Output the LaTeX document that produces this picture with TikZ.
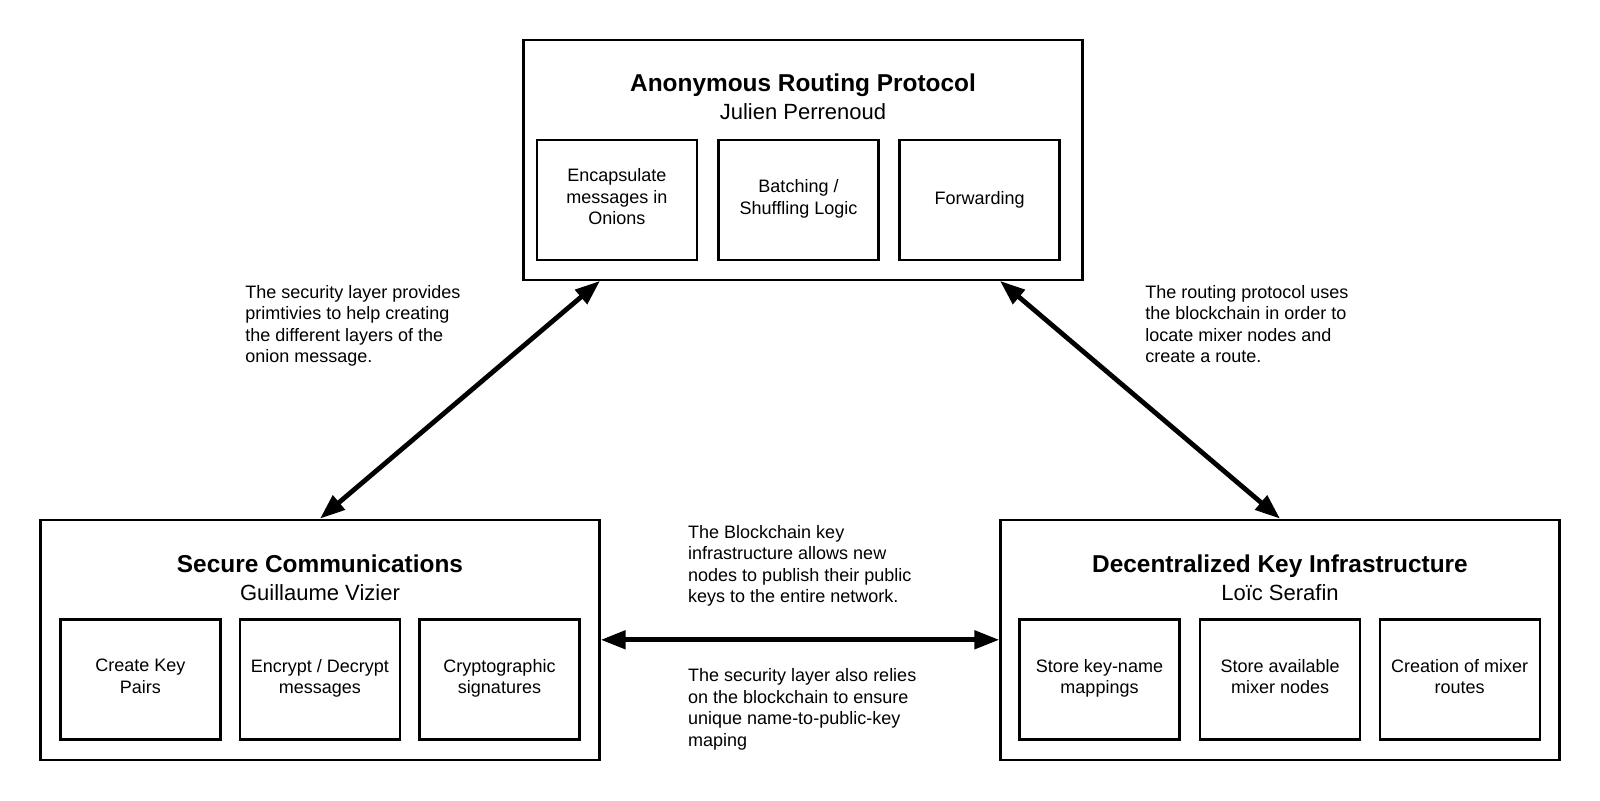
\documentclass[tikz,border=0pt]{standalone}
\usepackage{fontspec}
\setmainfont{Liberation Sans}
\usepackage{tikz}
\usetikzlibrary{arrows.meta}

\begin{document}
\begin{tikzpicture}[x=0.5pt,y=-0.5pt,
  layer/.style={draw, line width=1.2pt, minimum width=279.5pt, minimum height=120pt},
  task/.style={draw, line width=1.2pt, minimum width=80pt, minimum height=60pt, align=center, inner sep=2pt, font=\fontsize{9}{10.7}\selectfont, execute at begin node=\strut, execute at end node=\strut},
  heading/.style={anchor=base, font=\fontsize{12.2}{14}\selectfont\bfseries},
  person/.style={anchor=base, font=\fontsize{11}{13}\selectfont},
  note/.style={anchor=west, align=left, inner sep=0pt, font=\fontsize{9}{10.7}\selectfont, execute at begin node=\strut, execute at end node=\strut},
  link/.style={{Triangle[length=12.5pt,width=9pt]}-{Triangle[length=12.5pt,width=9pt]}, line width=2.4pt}]
\useasboundingbox (0,0) rectangle (1600,800);
\node[layer] (routing) at (803,159.7) {};
\node[layer] (secure) at (320,639.8) {};
\node[layer] (dki) at (1280,639.8) {};
\node[heading] (routinghead) at (803,91) {Anonymous Routing Protocol};
\node[person] (routingname) at (803,119) {Julien Perrenoud};
\node[heading] (securehead) at (320,572) {Secure Communications};
\node[person] (securename) at (320,600) {Guillaume Vizier};
\node[heading] (dkihead) at (1280,572) {Decentralized Key Infrastructure};
\node[person] (dkiname) at (1280,600) {Loïc Serafin};
\node[task] (onion) at (616.8,200) {Encapsulate\\messages in\\Onions};
\node[task] (batch) at (798.5,200) {Batching /\\Shuffling Logic};
\node[task] (fwd) at (979.6,200) {Forwarding};
\node[task] (keypair) at (140.3,679.6) {Create Key\\Pairs};
\node[task] (crypt) at (319.9,679.6) {Encrypt / Decrypt\\messages};
\node[task] (sign) at (499.5,679.6) {Cryptographic\\signatures};
\node[task] (keymap) at (1099.5,679.6) {Store key-name\\mappings};
\node[task] (mixers) at (1280.1,679.6) {Store available\\mixer nodes};
\node[task] (routes) at (1459.7,679.6) {Creation of mixer\\routes};
\draw[link] ([xshift=-101.5pt]routing.south) -- (secure.north);
\draw[link] ([xshift=98.5pt]routing.south) -- (dki.north);
\draw[link] (secure.east) -- (dki.west);
\node[note] (secnote) at (245,327) {The security layer provides\\primtivies to help creating\\the different layers of the\\onion message.};
\node[note] (routenote) at (1145,327) {The routing protocol uses\\the blockchain in order to\\locate mixer nodes and\\create a route.};
\node[note] (keynote) at (687.8,567) {The Blockchain key\\infrastructure allows new\\nodes to publish their public\\keys to the entire network.};
\node[note] (relynote) at (687.8,710.7) {The security layer also relies\\on the blockchain to ensure\\unique name-to-public-key\\maping};
\end{tikzpicture}
\end{document}
